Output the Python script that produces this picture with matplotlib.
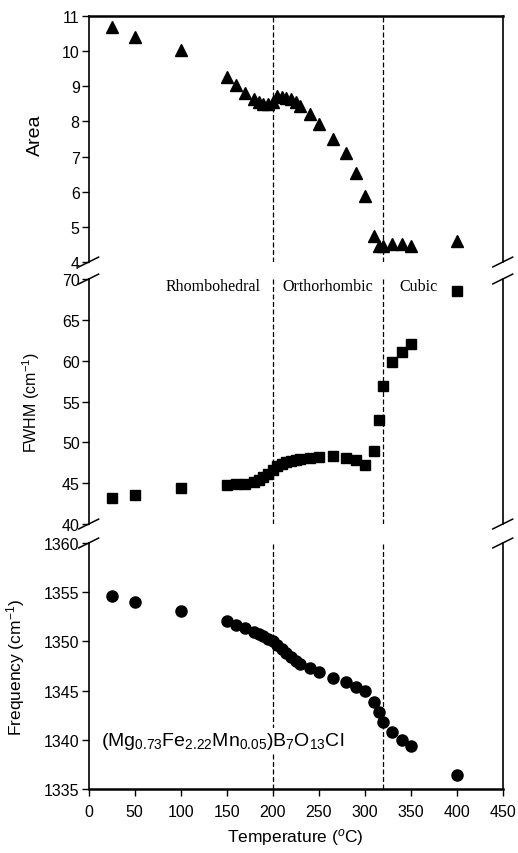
import matplotlib.pyplot as plt

plt.rcParams['font.family'] = ['Liberation Sans', 'DejaVu Sans']
plt.rcParams['mathtext.fontset'] = 'custom'
plt.rcParams['mathtext.rm'] = 'Liberation Sans'
plt.rcParams['mathtext.it'] = 'Liberation Sans:italic'
plt.rcParams['mathtext.bf'] = 'Liberation Sans:bold'

# temperatures (C)
temp = [25, 50, 100, 150, 160, 170, 180, 185, 190, 195, 200, 205, 210, 215,
        220, 225, 230, 240, 250, 265, 280, 290, 300, 310, 315, 320, 330, 340,
        350, 400]

area = [10.68, 10.41, 10.03, 9.27, 9.04, 8.81, 8.65, 8.56, 8.51, 8.51, 8.56,
        8.72, 8.70, 8.67, 8.63, 8.56, 8.44, 8.21, 7.94, 7.49, 7.09, 6.52, 5.88,
        4.74, 4.45, 4.45, 4.50, 4.50, 4.45, 4.59]

fwhm = [43.2, 43.5, 44.4, 44.8, 44.85, 44.95, 45.2, 45.4, 45.7, 46.1, 46.6,
        47.1, 47.4, 47.6, 47.75, 47.85, 47.95, 48.05, 48.15, 48.3, 48.1, 47.85,
        47.2, 49.0, 52.8, 56.9, 59.8, 61.1, 62.0, 68.5]

freq = [1354.64, 1353.97, 1353.12, 1352.05, 1351.7, 1351.35, 1351.0, 1350.75,
        1350.5, 1350.25, 1350.0, 1349.6, 1349.2, 1348.8, 1348.4, 1348.0,
        1347.7, 1347.3, 1346.9, 1346.25, 1345.84, 1345.33, 1344.93, 1343.8,
        1342.8, 1341.8, 1340.8, 1340.0, 1339.4, 1336.4]

phases = ['Rhombohedral', 'Orthorhombic', 'Cubic']
phase_x = [135, 260, 358]
transitions = [200, 320]

fig = plt.figure(figsize=(5.18, 8.54), dpi=100)
left, width = 0.1712, 0.7993
ax1 = fig.add_axes([left, 0.6920, width, 0.2881])
ax2 = fig.add_axes([left, 0.3852, width, 0.2869])
ax3 = fig.add_axes([left, 0.0749, width, 0.2881])

ax1.plot(temp, area, '^', color='black', markersize=8.5)
ax2.plot(temp, fwhm, 's', color='black', markersize=7.2)
ax3.plot(temp, freq, 'o', color='black', markersize=8)

ax1.set_ylim(4, 11)
ax2.set_ylim(40, 70)
ax3.set_ylim(1335, 1360)
ax1.set_yticks(range(4, 12))
ax2.set_yticks(range(40, 71, 5))
ax3.set_yticks(range(1335, 1361, 5))

for ax in (ax1, ax2, ax3):
    ax.set_xlim(0, 450)
    ax.set_facecolor('none')
    for t in transitions:
        ax.axvline(t, color='black', lw=0.9, ls=(0, (4, 2)), zorder=1)
    ax.tick_params(axis='y', direction='out', length=5, width=1, pad=1.5,
                   labelsize=11.5)
    ax.spines['left'].set_linewidth(1.2)
    ax.spines['right'].set_linewidth(1.2)

ax1.spines['bottom'].set_visible(False)
ax1.spines['top'].set_linewidth(1.8)
ax2.spines['top'].set_visible(False)
ax2.spines['bottom'].set_visible(False)
ax3.spines['top'].set_visible(False)
ax3.spines['bottom'].set_linewidth(1.8)
ax1.tick_params(axis='x', bottom=False, labelbottom=False)
ax2.tick_params(axis='x', bottom=False, labelbottom=False)
ax3.set_xticks(range(0, 451, 50))
ax3.tick_params(axis='x', direction='out', length=5, width=1, pad=6,
                labelsize=11.5)

ax1.set_ylabel('Area', fontsize=14)
ax2.set_ylabel('FWHM (cm$^{-1}$)', fontsize=11.5)
ax3.set_ylabel('Frequency (cm$^{-1}$)', fontsize=12.5)
ax1.yaxis.set_label_coords(-0.108, 0.52)
ax2.yaxis.set_label_coords(-0.112, 0.5)
ax3.yaxis.set_label_coords(-0.15, 0.5)
ax3.set_xlabel('Temperature ($^{o}$C)', fontsize=12.5, labelpad=5)

for name, x in zip(phases, phase_x):
    ax2.text(x, 69.2, name, family='Liberation Serif', fontsize=11.5,
             ha='center', va='center')

ax3.text(13, 1339.5, '(Mg$_{0.73}$Fe$_{2.22}$Mn$_{0.05}$)B$_{7}$O$_{13}$Cl',
         fontsize=14, va='baseline', ha='left', zorder=3,
         bbox=dict(facecolor='white', edgecolor='none', pad=1))

# break marks
for ax, yb in ((ax1, 0), (ax2, 1), (ax2, 0), (ax3, 1)):
    for xb in (0, 1):
        ax.plot([xb - 0.024, xb + 0.024], [yb - 0.02, yb + 0.02],
                transform=ax.transAxes, color='black', lw=1.1, clip_on=False)

plt.savefig('out.png', dpi=100)
